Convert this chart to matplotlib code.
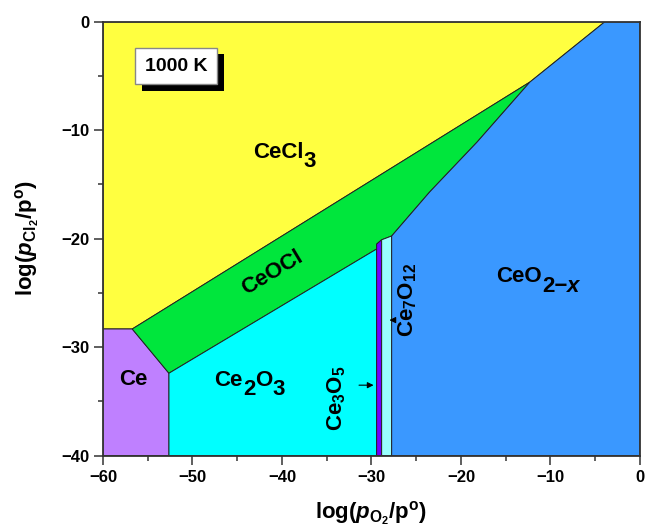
import numpy as np
import matplotlib
matplotlib.use('Agg')
import matplotlib.pyplot as plt
import matplotlib.patheffects as pe
import matplotlib.transforms as mtransforms
from matplotlib.patches import Polygon

plt.rcParams['font.family'] = ['Liberation Sans', 'DejaVu Sans']
plt.rcParams['font.weight'] = 'bold'
plt.rcParams['axes.labelweight'] = 'bold'
plt.rcParams['mathtext.fontset'] = 'custom'
plt.rcParams['mathtext.rm'] = 'Liberation Sans:bold'
plt.rcParams['mathtext.bf'] = 'Liberation Sans:bold'
plt.rcParams['mathtext.it'] = 'Liberation Sans:bold:italic'

# phase field vertices, log(pO2/p°) vs log(pCl2/p°), T = 1000 K
CeCl3_xy = [(-60, 0), (-3.91, 0), (-12.29, -5.56), (-56.73, -28.32), (-60, -28.32)]
Ce_xy = [(-60, -28.32), (-56.73, -28.32), (-52.63, -32.4), (-52.63, -40), (-60, -40)]
CeOCl_xy = [(-56.73, -28.32), (-12.29, -5.56), (-18.2, -11.1), (-23.5, -15.7),
            (-27.74, -19.75), (-28.86, -20.1), (-29.42, -20.5), (-29.42, -20.95),
            (-52.63, -32.4)]
Ce2O3_xy = [(-52.63, -40), (-52.63, -32.4), (-29.42, -20.95), (-29.42, -40)]
Ce3O5_xy = [(-29.42, -40), (-29.42, -20.5), (-28.86, -20.1), (-28.86, -40)]
Ce7O12_xy = [(-28.86, -40), (-28.86, -20.1), (-27.74, -19.75), (-27.74, -40)]
CeO2_xy = [(-27.74, -40), (-27.74, -19.75), (-23.5, -15.7), (-18.2, -11.1),
           (-12.29, -5.56), (-3.91, 0), (0, 0), (0, -40)]

phases = [
    (CeCl3_xy, '#ffff40'),
    (Ce_xy, '#bf80ff'),
    (CeOCl_xy, '#00e63c'),
    (Ce2O3_xy, '#00ffff'),
    (Ce3O5_xy, '#7000ff'),
    (Ce7O12_xy, '#99ffff'),
    (CeO2_xy, '#3a98ff'),
]

fig = plt.figure(figsize=(6.47, 5.30), dpi=100)
ax = fig.add_axes([0.1592, 0.1402, 0.8298, 0.8188])

for xy, col in phases:
    ax.add_patch(Polygon(xy, closed=True, facecolor=col, edgecolor='#222222',
                         linewidth=0.7, zorder=1))

ax.set_xlim(-60, 0)
ax.set_ylim(-40, 0)
ax.set_xticks(np.arange(-60, 1, 10))
ax.set_yticks(np.arange(-40, 1, 10))
ax.set_xticks(np.arange(-60, 1, 5), minor=True)
ax.set_yticks(np.arange(-40, 1, 5), minor=True)
ax.tick_params(which='major', direction='out', length=6.5, width=1.1,
               color='#333333', labelsize=12, top=False, right=False)
ax.tick_params(which='minor', direction='out', length=3.5, width=1.1,
               color='#333333', top=False, right=False)
for lab in ax.get_xticklabels() + ax.get_yticklabels():
    lab.set_fontweight('bold')
for s in ax.spines.values():
    s.set_linewidth(1.3)
    s.set_color('#333333')
    s.set_zorder(5)

ax.set_xlabel(r'log($\mathit{p}_{\mathrm{O}_2}$/p$^{\mathrm{o}}$)', fontsize=16,
              fontweight='bold', labelpad=11)
ax.set_ylabel(r'log($\mathit{p}_{\mathrm{Cl}_2}$/p$^{\mathrm{o}}$)', fontsize=16,
              fontweight='bold', labelpad=14)

renderer = fig.canvas.get_renderer()


def chem_label(x, y, pieces, size=16):
    # pieces: (text, drop in points, italic); laid out left to right, centred on x,
    # baseline at y; subscripts stay full size like the formula labels
    arts, widths = [], []
    for s, drop, ital in pieces:
        t = ax.text(x, y, s, fontsize=size, fontweight='bold',
                    fontstyle='italic' if ital else 'normal',
                    ha='left', va='baseline', zorder=4)
        arts.append(t)
        widths.append(t.get_window_extent(renderer).width)
    x0 = -sum(widths) / 2
    for t, w, (s, drop, ital) in zip(arts, widths, pieces):
        t.set_transform(mtransforms.offset_copy(ax.transData, fig=fig, x=x0,
                                                y=-drop * fig.dpi / 72, units='dots'))
        x0 += w


chem_label(-39.7, -12.6, [('CeCl', 0, False), ('3', 6, False)])
chem_label(-43.6, -33.6, [('Ce', 0, False), ('2', 6, False), ('O', 0, False), ('3', 6, False)])
chem_label(-11.4, -24.0, [('CeO', 0, False), ('2\u2212', 7, False), ('x', 7, True)])

kw = dict(fontsize=16, fontweight='bold', ha='center', va='center', zorder=4)
ax.text(-41.1, -23.1, 'CeOCl', rotation=31, **kw)
ax.text(-56.6, -33.0, 'Ce', **kw)
ax.text(-33.9, -34.7, r'Ce$_3$O$_5$', rotation=90, **kw)
ax.text(-26.0, -25.6, r'Ce$_7$O$_{12}$', rotation=90, **kw)

ax.annotate('', xy=(-29.45, -33.5), xytext=(-31.7, -33.5),
            arrowprops=dict(arrowstyle='-|>', color='black', lw=0.8,
                            mutation_scale=9), zorder=4)
ax.annotate('', xy=(-28.3, -27.5), xytext=(-27.0, -27.5),
            arrowprops=dict(arrowstyle='-|>', color='black', lw=0.8,
                            mutation_scale=9), zorder=4)

# temperature box with drop shadow
t = ax.text(-51.8, -4.1, '1000 K', fontsize=14, fontweight='bold', ha='center',
            va='center', color='black', zorder=7,
            bbox=dict(boxstyle='square,pad=0.5', facecolor='white',
                      edgecolor='#888888', linewidth=1.0))
t.get_bbox_patch().set_path_effects([
    pe.SimplePatchShadow(offset=(4.5, -4.5), shadow_rgbFace='black', alpha=1.0),
    pe.Normal()])

fig.savefig('out.png', dpi=100)
